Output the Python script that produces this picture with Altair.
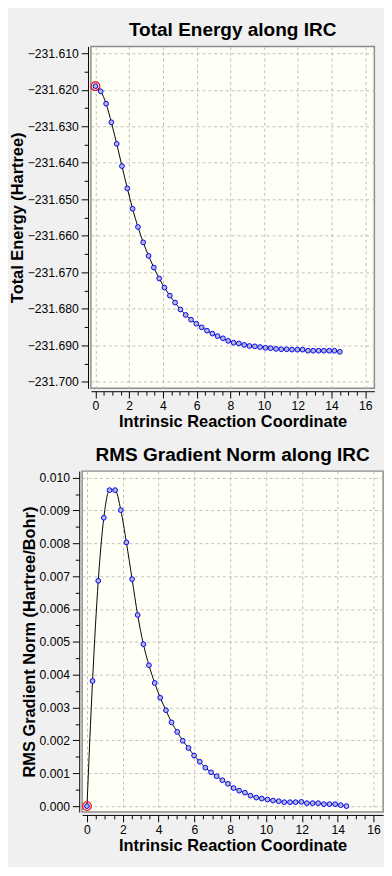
import altair as alt
import pandas as pd

# ---------------- data ----------------
irc = [0.00, 0.31, 0.63, 0.94, 1.26, 1.57, 1.89, 2.20, 2.52, 2.83,
       3.15, 3.46, 3.78, 4.09, 4.41, 4.72, 5.04, 5.35, 5.67, 5.98,
       6.30, 6.61, 6.93, 7.24, 7.56, 7.87, 8.19, 8.50, 8.82, 9.13,
       9.45, 9.76, 10.08, 10.39, 10.71, 11.02, 11.34, 11.65, 11.97, 12.28,
       12.60, 12.91, 13.23, 13.54, 13.86, 14.17, 14.49]

energy = [-231.6190, -231.6204, -231.6238, -231.6289, -231.6348, -231.6409,
          -231.6470, -231.6526, -231.6576, -231.6618, -231.6655, -231.6687,
          -231.6717, -231.6742, -231.6764, -231.6783, -231.6802, -231.6817,
          -231.6830, -231.6841, -231.6851, -231.6860, -231.6868, -231.6875,
          -231.6881, -231.6888, -231.6893, -231.6895, -231.6899, -231.6902,
          -231.6903, -231.6905, -231.6907, -231.6908, -231.6910, -231.6911,
          -231.6911, -231.6912, -231.6912, -231.6912, -231.6915, -231.6915,
          -231.6915, -231.6915, -231.6915, -231.6915, -231.6918]

rms_grad = [0.00000, 0.00381, 0.00686, 0.00878, 0.00962, 0.00962, 0.00901,
            0.00803, 0.00691, 0.00582, 0.00493, 0.00429, 0.00375, 0.00330,
            0.00292, 0.00255, 0.00226, 0.00199, 0.00177, 0.00154, 0.00135,
            0.00117, 0.00103, 0.00091, 0.00079, 0.00068, 0.00055, 0.00047,
            0.00041, 0.00032, 0.00026, 0.00023, 0.00020, 0.00017, 0.00015,
            0.00012, 0.00012, 0.00012, 0.00013, 0.00009, 0.00009, 0.00009,
            0.00006, 0.00006, 0.00006, 0.00003, 0.00000]

x_ticks = [i / 2 for i in range(33)]                       # 0 .. 16, minor every 0.5
e_ticks = [round(-231.700 + 0.005 * i, 3) for i in range(19)]  # -231.700 .. -231.610
g_ticks = [round(0.0005 * i, 4) for i in range(21)]        # 0.000 .. 0.010

titles = ["Total Energy along IRC", "RMS Gradient Norm along IRC"]
y_titles = ["Total Energy (Hartree)", "RMS Gradient Norm (Hartree/Bohr)"]
x_title = "Intrinsic Reaction Coordinate"

FONT = "Liberation Sans"

df = pd.DataFrame({"x": irc, "e": energy, "g": rms_grad})
cur = df.iloc[[0]]


def cond(test, major, minor):
    return {"condition": {"test": test, "value": major}, "value": minor}


x_major = "datum.value % 2 === 0"
e_major = "abs(round(datum.value * 1000)) % 10 === 0"
g_major = "round(datum.value * 10000) % 10 === 0"


def common_axis(test):
    return dict(
        labelExpr=f"{test} ? datum.label : ''",
        tickSize=7,
        tickDash=cond(test, [10, 0], [4, 10]),
        gridOpacity=cond(test, 1, 0),
        grid=True,
        gridColor="#BDBDBD",
        gridDash=[3, 3],
        gridWidth=1,
        offset=3,
        domainColor="black",
        tickColor="black",
        labelColor="black",
        titleColor="black",
        labelFont=FONT,
        titleFont=FONT,
        labelFontSize=12.5,
        titleFontSize=16.8,
        titleFontWeight="bold",
        labelOverlap=False,
        labelFlush=False,
    )


x_enc = alt.X(
    "x:Q",
    scale=alt.Scale(domain=[-0.27, 16.54], nice=False, zero=False),
    axis=alt.Axis(values=x_ticks, title=x_title, format=".0f",
                  labelPadding=2, titlePadding=2, **common_axis(x_major)),
)


def panel(field, domain, ticks, test, fmt, ytitle, title, w, h):
    y_enc = alt.Y(
        f"{field}:Q",
        scale=alt.Scale(domain=domain, nice=False, zero=False),
        axis=alt.Axis(values=ticks, title=ytitle, format=fmt,
                      labelPadding=3, titlePadding=1, **common_axis(test)),
    )
    line = alt.Chart(df).mark_line(
        color="black", strokeWidth=1, interpolate="monotone"
    ).encode(x=x_enc, y=y_enc)
    ring = alt.Chart(cur).mark_point(
        shape="circle", filled=False, size=80, stroke="#FF0000",
        strokeWidth=1.2, opacity=1
    ).encode(x=x_enc, y=y_enc)
    pts = alt.Chart(df).mark_point(
        shape="circle", filled=True, size=24, fill="#B4B8C8",
        stroke="#0000FF", strokeWidth=1, opacity=1, fillOpacity=1
    ).encode(x=x_enc, y=y_enc)
    return alt.layer(line, ring, pts).properties(
        width=w, height=h,
        title=alt.TitleParams(title, font=FONT, fontSize=19.5, fontWeight="bold",
                              color="black", anchor="middle", offset=6),
    )


top = panel("e", [-231.7018, -231.6081], e_ticks, e_major, ".3f",
            y_titles[0], titles[0], 291, 351)
bottom = panel("g", [-0.00018, 0.0102], g_ticks, g_major, ".3f",
               y_titles[1], titles[1], 309, 350)

chart = alt.vconcat(top, bottom, spacing=12, center=True, padding=0).configure(
    background="#F0F0F0"
).configure_view(
    fill="#FFFFF5", stroke="#8C8C8C", strokeWidth=1.5
)

chart.save("out.html", embed_options={"renderer": "svg", "actions": False})
